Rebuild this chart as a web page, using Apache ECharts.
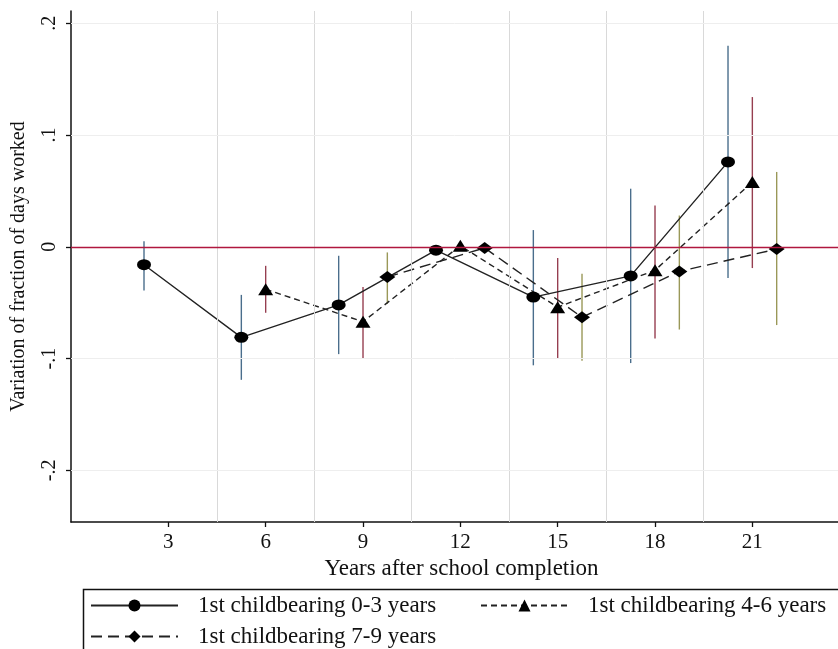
<!DOCTYPE html>
<html>
<head>
<meta charset="utf-8">
<script src="https://cdn.jsdelivr.net/npm/echarts@6/dist/echarts.min.js"></script>
<style>
html,body{margin:0;padding:0;background:#fff;}
#chart{width:838px;height:649px;}
</style>
</head>
<body>
<div id="chart"></div>
<script>
// ---- data ----
var seriesNames = ['1st childbearing 0-3 years', '1st childbearing 4-6 years', '1st childbearing 7-9 years'];

var x03 = [2.25, 5.25, 8.25, 11.25, 14.25, 17.25, 20.25];
var y03 = [-0.016, -0.081, -0.052, -0.003, -0.045, -0.026, 0.076];
var lo03 = [-0.039, -0.119, -0.096, null, -0.106, -0.104, -0.028];
var hi03 = [0.005, -0.043, -0.008, null, 0.015, 0.052, 0.180];

var x46 = [6, 9, 12, 15, 18, 21];
var y46 = [-0.038, -0.067, 0.001, -0.054, -0.021, 0.058];
var lo46 = [-0.059, -0.100, null, -0.100, -0.082, -0.019];
var hi46 = [-0.017, -0.036, null, -0.010, 0.037, 0.134];

var x79 = [9.75, 12.75, 15.75, 18.75, 21.75];
var y79 = [-0.027, -0.001, -0.063, -0.022, -0.002];
var lo79 = [-0.051, null, -0.102, -0.074, -0.070];
var hi79 = [-0.005, null, -0.024, 0.028, 0.067];

var xTicks = [3, 6, 9, 12, 15, 18, 21];
var yTicks = [-0.2, -0.1, 0, 0.1, 0.2];
var yTickLabels = ['-.2', '-.1', '0', '.1', '.2'];
var xGridLines = [4.5, 7.5, 10.5, 13.5, 16.5, 19.5];
var yGridLines = [-0.2, -0.1, 0.1, 0.2];
var refLine = 0;

// ---- build ----
function pts(xs, ys) { return xs.map(function (x, i) { return [x, ys[i]]; }); }
function cis(xs, lo, hi) {
  var out = [];
  xs.forEach(function (x, i) { if (lo[i] !== null && hi[i] !== null) out.push([x, lo[i], hi[i]]); });
  return out;
}
function ciSeries(data, color) {
  return {
    type: 'custom', z: 1, silent: true,
    data: data,
    encode: { x: 0, y: [1, 2] },
    renderItem: function (params, api) {
      var p1 = api.coord([api.value(0), api.value(1)]);
      var p2 = api.coord([api.value(0), api.value(2)]);
      return { type: 'line', shape: { x1: p1[0], y1: p1[1], x2: p2[0], y2: p2[1] },
        style: { stroke: color, lineWidth: 1.4 } };
    }
  };
}

var serif = 'Liberation Serif';
var chart = echarts.init(document.getElementById('chart'));
var option = {
  animation: false,
  backgroundColor: '#fff',
  grid: { left: 71, top: 11, right: 0, height: 511, containLabel: false },
  xAxis: {
    type: 'value', min: 0, max: 23.64,
    name: 'Years after school completion', nameLocation: 'middle', nameGap: 31,
    nameTextStyle: { fontFamily: serif, fontSize: 23, color: '#111', padding: [0, 0, 0, 14] },
    axisLine: { onZero: false, lineStyle: { color: '#111', width: 1.5 } },
    axisTick: { show: true, length: 5, customValues: xTicks, lineStyle: { color: '#111', width: 1.3 } },
    axisLabel: { customValues: xTicks, margin: 10, fontFamily: serif, fontSize: 21, color: '#111' },
    splitLine: { show: false }
  },
  yAxis: {
    type: 'value', min: -0.2462, max: 0.211,
    name: 'Variation of fraction of days worked', nameLocation: 'middle', nameGap: 42,
    nameTextStyle: { fontFamily: serif, fontSize: 20, color: '#111' },
    axisLine: { lineStyle: { color: '#111', width: 1.5 } },
    axisTick: { show: true, length: 5, customValues: yTicks, lineStyle: { color: '#111', width: 1.3 } },
    axisLabel: {
      customValues: yTicks, rotate: 90, margin: 11, fontFamily: serif, fontSize: 20, color: '#111',
      formatter: function (v) {
        for (var i = 0; i < yTicks.length; i++) if (Math.abs(yTicks[i] - v) < 1e-9) return yTickLabels[i];
        return '';
      }
    },
    splitLine: { show: false }
  },
  legend: [
    {
      data: [seriesNames[0], seriesNames[2]], orient: 'vertical', left: 90, top: 594, padding: 0,
      itemWidth: 87, itemHeight: 15, itemGap: 8,
      textStyle: { fontFamily: serif, fontSize: 23, color: '#111', padding: [0, 0, 0, 15] }
    },
    {
      data: [seriesNames[1]], orient: 'vertical', left: 480, top: 594, padding: 0,
      itemWidth: 87, itemHeight: 15, itemGap: 8,
      textStyle: { fontFamily: serif, fontSize: 23, color: '#111', padding: [0, 0, 0, 15] }
    }
  ],
  graphic: [
    { type: 'rect', left: 81, top: 587, shape: { width: 780, height: 80 },
      style: { fill: 'none', stroke: '#111', lineWidth: 1.5 }, silent: true }
  ],
  series: [
    {
      type: 'line', name: '__grid', data: [], silent: true, z: 0,
      markLine: {
        silent: true, symbol: 'none', label: { show: false },
        data: xGridLines.map(function (v) { return { xAxis: v, lineStyle: { color: '#d9d9d9', width: 1, type: 'solid' } }; })
          .concat(yGridLines.map(function (v) { return { yAxis: v, lineStyle: { color: '#eeeeee', width: 1, type: 'solid' } }; }))
      }
    },
    {
      type: 'line', name: '__ref', data: [], silent: true, z: 0,
      markLine: {
        silent: true, symbol: 'none', label: { show: false },
        data: [{ yAxis: refLine, lineStyle: { color: '#b0173f', width: 1.3, type: 'solid' } }]
      }
    },
    ciSeries(cis(x03, lo03, hi03), '#4a6e8c'),
    ciSeries(cis(x46, lo46, hi46), '#963e50'),
    ciSeries(cis(x79, lo79, hi79), '#9a9858'),
    {
      type: 'line', name: seriesNames[0], data: pts(x03, y03), z: 3,
      symbol: 'circle', symbolSize: [14, 11],
      itemStyle: { color: '#000' },
      lineStyle: { color: '#222', width: 1.4, type: 'solid' }
    },
    {
      type: 'line', name: seriesNames[1], data: pts(x46, y46), z: 3,
      symbol: 'triangle', symbolSize: [15, 12],
      itemStyle: { color: '#000' },
      lineStyle: { color: '#222', width: 1.4, type: [6, 4] }
    },
    {
      type: 'line', name: seriesNames[2], data: pts(x79, y79), z: 3,
      symbol: 'diamond', symbolSize: [16, 12],
      itemStyle: { color: '#000' },
      lineStyle: { color: '#222', width: 1.4, type: [11, 6] }
    }
  ]
};
chart.setOption(option);
</script>
</body>
</html>
